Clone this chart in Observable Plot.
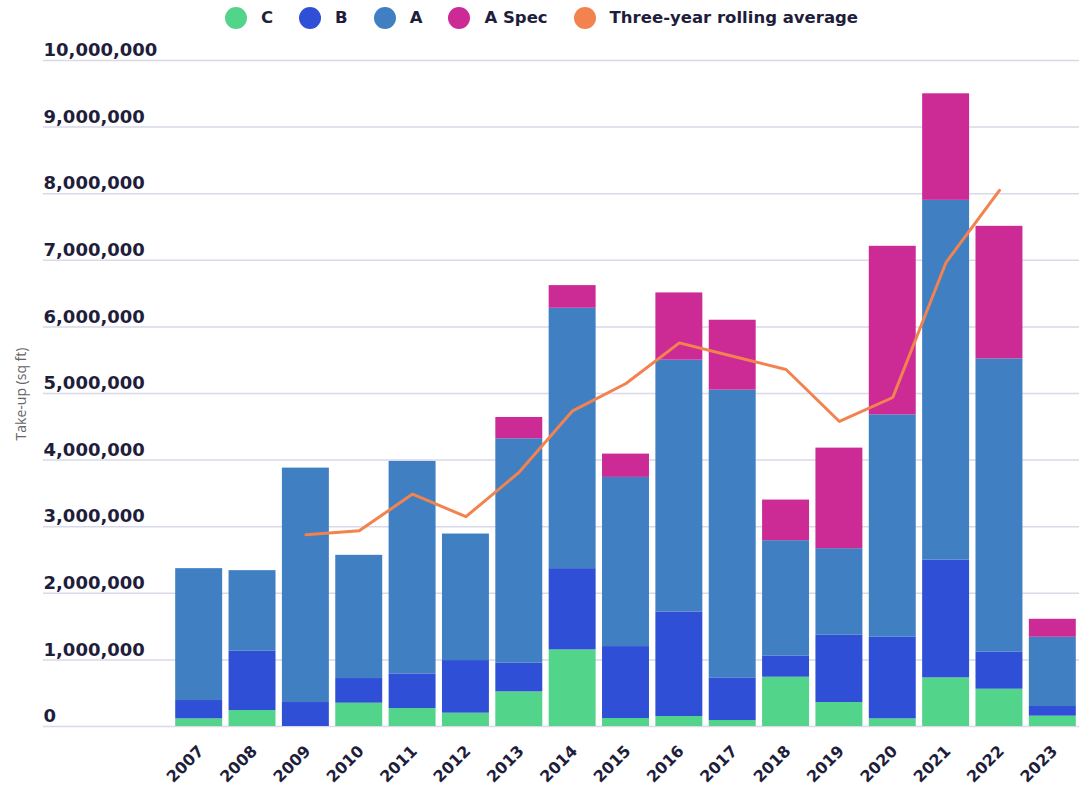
<!DOCTYPE html>
<html><head><meta charset="utf-8">
<script src="https://cdn.jsdelivr.net/npm/d3@7"></script>
<script src="https://cdn.jsdelivr.net/npm/@observablehq/plot@0.6"></script>
<style>
html,body{margin:0;padding:0;background:#fff;overflow:hidden;}
#wrap{position:relative;width:1079px;height:787px}
#legend{height:35px;display:flex;align-items:center;justify-content:center;font-family:"DejaVu Sans",sans-serif;font-weight:bold;font-size:16.5px;color:#1e1e3c;padding-left:4px;box-sizing:border-box}
.item{display:flex;align-items:center;margin:0 13px}
.dot{width:22px;height:22px;border-radius:50%;margin-right:14px}
#ytitle{position:absolute;left:20px;top:394px;transform:translate(-50%,-50%) rotate(-90deg);font-family:"Open Sans",sans-serif;font-size:14px;color:#666;white-space:nowrap}
</style></head><body><div id="wrap"><div id="legend"></div><div id="chart"></div><div id="ytitle"></div></div>
<script>
const years = ["2007","2008","2009","2010","2011","2012","2013","2014","2015","2016","2017","2018","2019","2020","2021","2022","2023"];
const seriesNames = ["C","B","A","A Spec"];
const seriesColors = ["#52d48a","#2f4fd6","#3f7fc2","#cc2b96"];
const valuesC = [115000,240000,0,350000,270000,200000,520000,1150000,120000,150000,90000,740000,360000,115000,730000,560000,155000];
const valuesB = [275000,890000,360000,370000,520000,790000,430000,1220000,1080000,1570000,640000,320000,1010000,1225000,1770000,560000,145000];
const valuesA = [1980000,1210000,3520000,1850000,3190000,1900000,3370000,3910000,2540000,3780000,4320000,1730000,1300000,3340000,5400000,4400000,1040000];
const valuesSpec = [0,0,0,0,0,0,320000,340000,350000,1010000,1050000,610000,1510000,2530000,1600000,1990000,270000];
const rollingYears = ["2009","2010","2011","2012","2013","2014","2015","2016","2017","2018","2019","2020","2021","2022"];
const rollingValues = [2880000,2940000,3490000,3150000,3820000,4740000,5150000,5760000,5560000,5360000,4580000,4940000,6970000,8050000];
const lineName = "Three-year rolling average";
const lineColor = "#f2834f";
const yTicks = [0,1000000,2000000,3000000,4000000,5000000,6000000,7000000,8000000,9000000,10000000];
const yLabel = "Take-up (sq ft)";

const seriesValues = [valuesC, valuesB, valuesA, valuesSpec];
const stacked = [];
seriesNames.forEach((s, si) => years.forEach((y, i) => stacked.push({year: y, series: s, value: seriesValues[si][i]})));
const rolling = rollingYears.map((y, i) => ({year: y, value: rollingValues[i]}));

// legend
const legend = document.getElementById("legend");
const legendItems = seriesNames.map((s, i) => [s, seriesColors[i]]).concat([[lineName, lineColor]]);
legendItems.forEach(([name, col]) => {
  const it = document.createElement("div"); it.className = "item";
  const d = document.createElement("div"); d.className = "dot"; d.style.background = col;
  const t = document.createElement("span"); t.textContent = name;
  it.appendChild(d); it.appendChild(t); legend.appendChild(it);
});
document.getElementById("ytitle").textContent = yLabel;

const chart = Plot.plot({
  width: 1079,
  height: 752,
  marginTop: 25,
  marginBottom: 61,
  marginLeft: 43,
  marginRight: 0,
  style: {fontFamily: "DejaVu Sans, sans-serif", background: "#fff"},
  x: {domain: years, insetLeft: 129, insetRight: 0, paddingInner: 0.12, paddingOuter: 0.06, round: false, label: null},
  y: {domain: [0, 10000000], label: null},
  color: {domain: seriesNames, range: seriesColors},
  marks: [
    Plot.gridY(yTicks, {stroke: "#d9d9ea", strokeOpacity: 1, strokeWidth: 1.5}),
    Plot.barY(stacked, {x: "year", y: "value", fill: "series", order: seriesNames}),
    Plot.lineY(rolling, {x: "year", y: "value", stroke: lineColor, strokeWidth: 3}),
    Plot.axisY(yTicks, {tickSize: 0, tickPadding: 0, textAnchor: "start", dy: -10, tickFormat: d3.format(","), fontSize: 18, fontWeight: "bold", color: "#1e1e3c", label: null}),
    Plot.axisX({tickSize: 0, tickRotate: -45, tickPadding: 22, dx: 2, fontSize: 16, fontWeight: "bold", color: "#1e1e3c", label: null})
  ]
});
document.getElementById("chart").appendChild(chart);
</script></body></html>
